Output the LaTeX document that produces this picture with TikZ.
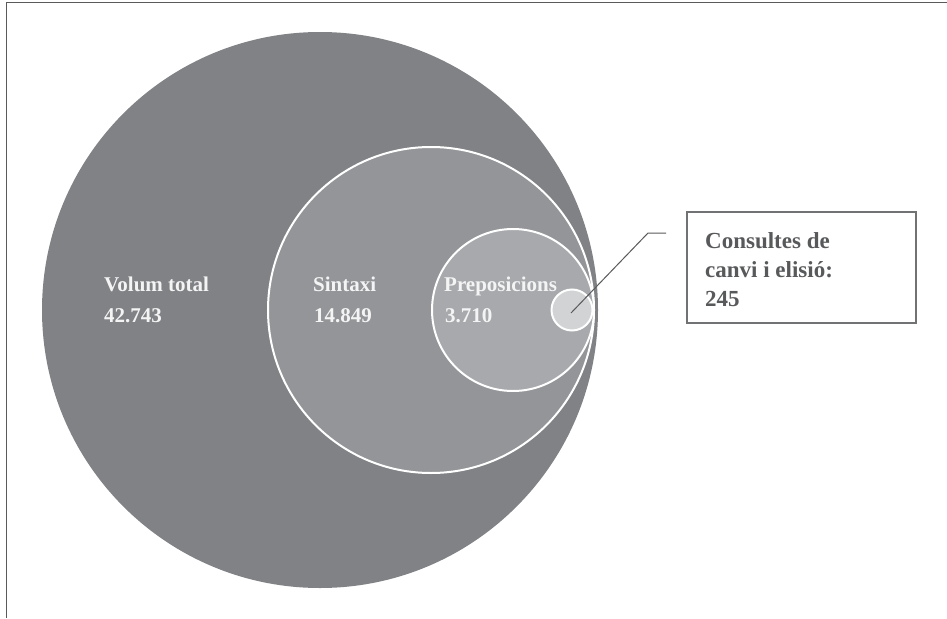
\documentclass[tikz,border=0pt]{standalone}
\usepackage{fontspec}
\setmainfont{Liberation Serif}
\definecolor{cbig}{HTML}{808285}
\definecolor{csin}{HTML}{939598}
\definecolor{cpre}{HTML}{A7A9AC}
\definecolor{csma}{HTML}{D1D3D4}
\definecolor{ctxt}{HTML}{58595B}
\definecolor{cwhite}{HTML}{F4F4F4}
\definecolor{cframe}{HTML}{5A5A5C}
\begin{document}
\begin{tikzpicture}[x=1pt,y=-1pt,
  disc/.style={circle, inner sep=0pt, draw=white, line width=2pt},
  lab/.style={anchor=base west, inner sep=0pt, text=cwhite, font=\fontsize{21}{25}\selectfont\bfseries},
  boxtxt/.style={anchor=base west, inner sep=0pt, text=ctxt, font=\fontsize{23}{28}\selectfont\bfseries},
  leader/.style={draw=ctxt, line width=1pt},
  callout/.style={draw=ctxt!85, line width=1.3pt, inner sep=0pt, fill=white}]
\useasboundingbox (0,0) rectangle (947,618);
% frame
\coordinate (fbl) at (6.5,618);
\coordinate (ftl) at (6.5,2.5);
\coordinate (ftr) at (947,2.5);
\draw[cframe, line width=1.6pt] (fbl) -- (ftl) -- (ftr);
% circles
\node[circle, inner sep=0pt, fill=cbig, minimum size=556pt] (big) at (320,310) {};
\node[disc, fill=csin, minimum size=326pt] (sin) at (431,310) {};
\node[disc, fill=cpre, minimum size=162pt] (pre) at (513,310) {};
\node[disc, fill=csma, minimum size=41pt] (sma) at (572,310) {};
% labels
\node[lab] (l1) at (104,291) {Volum total};
\node[lab] (n1) at (104,322) {42.743};
\node[lab] (l2) at (313,291) {Sintaxi};
\node[lab] (n2) at (314,322) {14.849};
\node[lab] (l3) at (444,291) {Preposicions};
\node[lab] (n3) at (445,322) {3.710};
% callout
\node[callout, minimum width=229pt, minimum height=111pt] (box) at (801.5,267.5) {};
\node[boxtxt] (t1) at (705,248) {Consultes de};
\node[boxtxt] (t2) at (705,277) {canvi i elisió:};
\node[boxtxt] (t3) at (705,306) {245};
\coordinate (bend) at (648,233);
\coordinate (lend) at (666,233);
\draw[leader] ([shift={(-1,3)}]sma.center) -- (bend) -- (lend);
\end{tikzpicture}
\end{document}
